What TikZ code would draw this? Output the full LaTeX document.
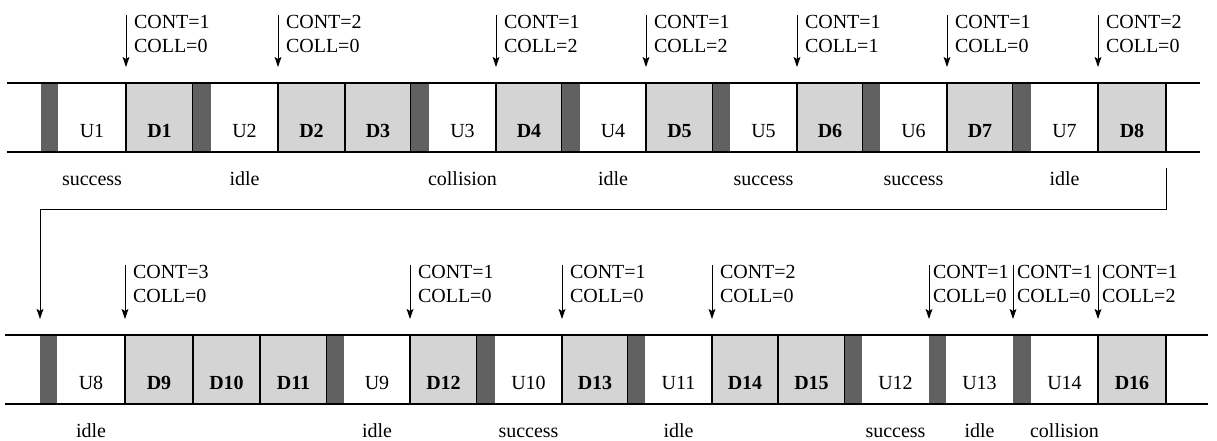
\documentclass[tikz,border=0pt]{standalone}
\usepackage{fontspec}
\setmainfont{Liberation Serif}
\usetikzlibrary{arrows.meta}

% one slot of the frame: name, style, left x, right x, top y, label
\newcommand\cellat[6]{\node[#2, minimum width={(#4-#3)*0.5pt}] (#1) at (#3,#5) {#6};}
% announcement arrow with its two counters: name, x, top y, target, CONT, COLL, text offset
\newcommand\flagat[7]{%
  \coordinate (#1) at (#2,#3);
  \draw[arr] (#1) -- (#4);
  \node[flagtext] (#1t) at (#2+#7,#3+13) {CONT=#5};
  \node[flagtext] (#1b) at (#2+#7,#3+37) {COLL=#6};}

\begin{document}
\begin{tikzpicture}[x=0.5pt,y=-0.5pt,
  every node/.style={font=\fontsize{10pt}{12pt}\selectfont, inner sep=0pt, outer sep=0pt},
  slot/.style={rectangle, anchor=north west, minimum height=34.5pt, text height=19.5pt, text depth=0pt},
  ucell/.style={slot, fill=white},
  dcell/.style={slot, fill=black!17, draw=black, line width=0.6pt, font=\fontsize{10pt}{12pt}\selectfont\bfseries},
  gap/.style={slot, fill=black!62},
  rail/.style={line width=0.8pt},
  arr/.style={-{Stealth[length=5pt,width=3.4pt,inset=1pt]}, line width=0.5pt, shorten >=8pt},
  flagtext/.style={anchor=base west},
  status/.style={anchor=base},
]
\useasboundingbox (0,0) rectangle (1217,440);

% ---- first frame sequence ----
\cellat{g1}{gap}{41}{58}{83}{}
\cellat{U1}{ucell}{58}{126}{83}{U1}
\cellat{D1}{dcell}{126}{193}{83}{D1}
\cellat{g2}{gap}{193}{211}{83}{}
\cellat{U2}{ucell}{211}{278}{83}{U2}
\cellat{D2}{dcell}{278}{345}{83}{D2}
\cellat{D3}{dcell}{345}{411}{83}{D3}
\cellat{g3}{gap}{411}{429}{83}{}
\cellat{U3}{ucell}{429}{496}{83}{U3}
\cellat{D4}{dcell}{496}{562}{83}{D4}
\cellat{g4}{gap}{562}{580}{83}{}
\cellat{U4}{ucell}{580}{646}{83}{U4}
\cellat{D5}{dcell}{646}{713}{83}{D5}
\cellat{g5}{gap}{713}{730}{83}{}
\cellat{U5}{ucell}{730}{797}{83}{U5}
\cellat{D6}{dcell}{797}{863}{83}{D6}
\cellat{g6}{gap}{863}{880}{83}{}
\cellat{U6}{ucell}{880}{947}{83}{U6}
\cellat{D7}{dcell}{947}{1013}{83}{D7}
\cellat{g7}{gap}{1013}{1031}{83}{}
\cellat{U7}{ucell}{1031}{1098}{83}{U7}
\cellat{D8}{dcell}{1098}{1166}{83}{D8}
\draw[rail] (7,83) -- (1200,83);
\draw[rail] (7,152) -- (1200,152);

% ---- second frame sequence ----
\cellat{g8}{gap}{40}{57}{335}{}
\cellat{U8}{ucell}{57}{125}{335}{U8}
\cellat{D9}{dcell}{125}{193}{335}{D9}
\cellat{D10}{dcell}{193}{260}{335}{D10}
\cellat{D11}{dcell}{260}{327}{335}{D11}
\cellat{g9}{gap}{327}{344}{335}{}
\cellat{U9}{ucell}{344}{410}{335}{U9}
\cellat{D12}{dcell}{410}{477}{335}{D12}
\cellat{g10}{gap}{477}{495}{335}{}
\cellat{U10}{ucell}{495}{562}{335}{U10}
\cellat{D13}{dcell}{562}{628}{335}{D13}
\cellat{g11}{gap}{628}{645}{335}{}
\cellat{U11}{ucell}{645}{712}{335}{U11}
\cellat{D14}{dcell}{712}{778}{335}{D14}
\cellat{D15}{dcell}{778}{845}{335}{D15}
\cellat{g12}{gap}{845}{862}{335}{}
\cellat{U12}{ucell}{862}{929}{335}{U12}
\cellat{g13}{gap}{929}{946}{335}{}
\cellat{U13}{ucell}{946}{1013}{335}{U13}
\cellat{g14}{gap}{1013}{1031}{335}{}
\cellat{U14}{ucell}{1031}{1098}{335}{U14}
\cellat{D16}{dcell}{1098}{1166}{335}{D16}
\draw[rail] (5,335) -- (1208,335);
\draw[rail] (5,404) -- (1208,404);

% ---- counters announced at each downlink start ----
\flagat{f1}{126}{15}{D1.north west}{1}{0}{8}
\flagat{f2}{278}{15}{D2.north west}{2}{0}{8}
\flagat{f3}{496}{15}{D4.north west}{1}{2}{8}
\flagat{f4}{646}{15}{D5.north west}{1}{2}{8}
\flagat{f5}{797}{15}{D6.north west}{1}{1}{8}
\flagat{f6}{947}{15}{D7.north west}{1}{0}{8}
\flagat{f7}{1098}{15}{D8.north west}{2}{0}{8}
\flagat{f8}{125}{265}{D9.north west}{3}{0}{8}
\flagat{f9}{410}{265}{D12.north west}{1}{0}{8}
\flagat{f10}{562}{265}{D13.north west}{1}{0}{8}
\flagat{f11}{712}{265}{D14.north west}{2}{0}{8}
\flagat{f12}{929}{265}{g13.north west}{1}{0}{4}
\flagat{f13}{1013}{265}{g14.north west}{1}{0}{4}
\flagat{f14}{1098}{265}{D16.north west}{1}{2}{4}

% ---- continuation from the first line to the second ----
\coordinate (w0) at (1166,168);
\coordinate (w1) at (1166,209);
\coordinate (w2) at (40,209);
\draw[arr] (w0) -- (w1) -- (w2) -- (g8.north west);

% ---- outcome of each uplink slot ----
\node[status] (s1) at ([yshift=-16.5pt]U1.south) {success};
\node[status] (s2) at ([yshift=-16.5pt]U2.south) {idle};
\node[status] (s3) at ([yshift=-16.5pt]U3.south) {collision};
\node[status] (s4) at ([yshift=-16.5pt]U4.south) {idle};
\node[status] (s5) at ([yshift=-16.5pt]U5.south) {success};
\node[status] (s6) at ([yshift=-16.5pt]U6.south) {success};
\node[status] (s7) at ([yshift=-16.5pt]U7.south) {idle};
\node[status] (s8) at ([yshift=-16.5pt]U8.south) {idle};
\node[status] (s9) at ([yshift=-16.5pt]U9.south) {idle};
\node[status] (s10) at ([yshift=-16.5pt]U10.south) {success};
\node[status] (s11) at ([yshift=-16.5pt]U11.south) {idle};
\node[status] (s12) at ([yshift=-16.5pt]U12.south) {success};
\node[status] (s13) at ([yshift=-16.5pt]U13.south) {idle};
\node[status] (s14) at ([yshift=-16.5pt]U14.south) {collision};
\end{tikzpicture}
\end{document}
